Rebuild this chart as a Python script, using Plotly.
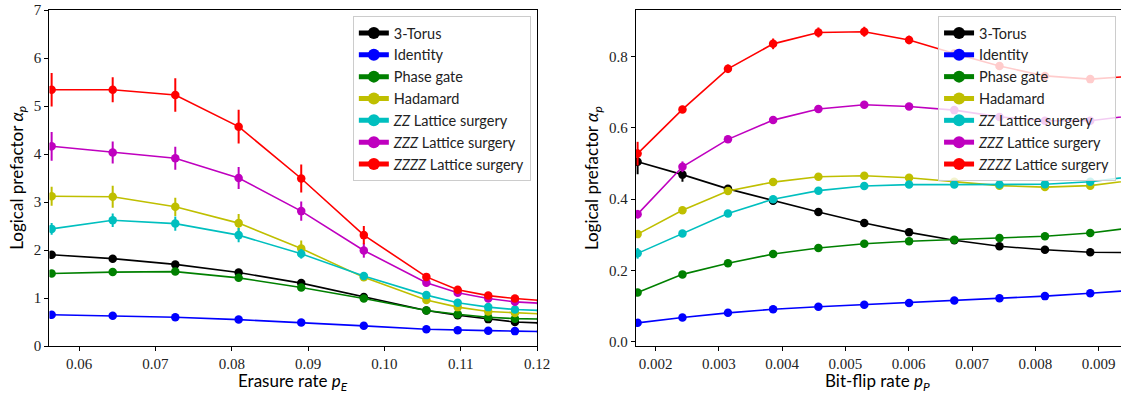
import plotly.graph_objects as go

W, H = 1134, 393

names = ["3-Torus", "Identity", "Phase gate", "Hadamard",
         "<i>ZZ</i> Lattice surgery", "<i>ZZZ</i> Lattice surgery", "<i>ZZZZ</i> Lattice surgery"]
colors = ["#000000", "#0000ff", "#008000", "#bfbf00", "#00bfbf", "#bf00bf", "#ff0000"]

# ---- Left panel: erasure rate ----
pE = [0.0564, 0.0644, 0.0726, 0.0809, 0.0891, 0.0973, 0.1055, 0.1096, 0.1136, 0.1171, 0.1205]
left_torus = [1.90, 1.82, 1.70, 1.53, 1.31, 1.02, 0.74, 0.64, 0.56, 0.50, 0.48]
left_identity = [0.65, 0.63, 0.60, 0.55, 0.49, 0.42, 0.35, 0.33, 0.32, 0.31, 0.30]
left_phase = [1.51, 1.54, 1.55, 1.42, 1.22, 0.99, 0.74, 0.66, 0.60, 0.57, 0.56]
left_hadamard = [3.12, 3.11, 2.90, 2.56, 2.03, 1.43, 0.96, 0.81, 0.72, 0.69, 0.67]
left_zz = [2.44, 2.62, 2.55, 2.31, 1.92, 1.46, 1.06, 0.90, 0.81, 0.76, 0.74]
left_zzz = [4.16, 4.03, 3.91, 3.50, 2.81, 1.99, 1.32, 1.11, 0.99, 0.92, 0.89]
left_zzzz = [5.34, 5.34, 5.23, 4.57, 3.49, 2.31, 1.44, 1.17, 1.05, 0.99, 0.95]
left_err_torus = [0.05, 0.04, 0.04, 0.03, 0.03, 0.02, 0.02, 0.02, 0.01, 0.01, 0.01]
left_err_identity = [0.03, 0.03, 0.02, 0.02, 0.02, 0.02, 0.01, 0.01, 0.01, 0.01, 0.01]
left_err_phase = [0.06, 0.07, 0.07, 0.06, 0.05, 0.03, 0.02, 0.02, 0.01, 0.01, 0.01]
left_err_hadamard = [0.20, 0.23, 0.19, 0.19, 0.17, 0.05, 0.04, 0.03, 0.02, 0.02, 0.02]
left_err_zz = [0.12, 0.14, 0.15, 0.15, 0.10, 0.05, 0.03, 0.02, 0.02, 0.02, 0.02]
left_err_zzz = [0.30, 0.23, 0.24, 0.23, 0.20, 0.15, 0.05, 0.04, 0.03, 0.03, 0.03]
left_err_zzzz = [0.35, 0.26, 0.35, 0.35, 0.29, 0.19, 0.06, 0.04, 0.03, 0.03, 0.03]
left_xticks = [0.06, 0.07, 0.08, 0.09, 0.10, 0.11, 0.12]
left_xticklabels = ["0.06", "0.07", "0.08", "0.09", "0.10", "0.11", "0.12"]
left_yticks = [0, 1, 2, 3, 4, 5, 6, 7]

# ---- Right panel: bit-flip rate ----
pP = [0.001714, 0.002423, 0.003142, 0.003856, 0.004572, 0.005297, 0.006005,
      0.006720, 0.007434, 0.008153, 0.008869, 0.009584]
right_torus = [0.505, 0.469, 0.429, 0.396, 0.364, 0.333, 0.307, 0.285, 0.268, 0.258, 0.251, 0.250]
right_identity = [0.053, 0.068, 0.081, 0.091, 0.098, 0.104, 0.109, 0.116, 0.122, 0.128, 0.136, 0.145]
right_phase = [0.138, 0.189, 0.220, 0.246, 0.263, 0.275, 0.282, 0.286, 0.291, 0.296, 0.305, 0.321]
right_hadamard = [0.302, 0.369, 0.423, 0.448, 0.463, 0.466, 0.460, 0.449, 0.438, 0.434, 0.438, 0.454]
right_zz = [0.248, 0.304, 0.360, 0.400, 0.424, 0.437, 0.441, 0.441, 0.441, 0.442, 0.449, 0.465]
right_zzz = [0.358, 0.491, 0.568, 0.622, 0.653, 0.665, 0.660, 0.650, 0.631, 0.620, 0.620, 0.636]
right_zzzz = [0.528, 0.652, 0.766, 0.836, 0.868, 0.870, 0.847, 0.809, 0.774, 0.746, 0.737, 0.746]
right_err_torus = [0.035, 0.02, 0.01, 0.006, 0.005, 0.005, 0.005, 0.004, 0.004, 0.004, 0.004, 0.004]
right_err_identity = [0.004, 0.003, 0.003, 0.003, 0.003, 0.003, 0.003, 0.003, 0.003, 0.003, 0.003, 0.003]
right_err_phase = [0.006, 0.005, 0.005, 0.004, 0.004, 0.004, 0.004, 0.004, 0.004, 0.004, 0.004, 0.004]
right_err_hadamard = [0.008, 0.006, 0.006, 0.005, 0.005, 0.005, 0.005, 0.005, 0.005, 0.005, 0.005, 0.005]
right_err_zz = [0.015, 0.006, 0.006, 0.005, 0.005, 0.005, 0.005, 0.005, 0.005, 0.005, 0.005, 0.005]
right_err_zzz = [0.012, 0.015, 0.008, 0.007, 0.007, 0.007, 0.007, 0.006, 0.006, 0.006, 0.006, 0.006]
right_err_zzzz = [0.033, 0.010, 0.012, 0.015, 0.014, 0.014, 0.012, 0.010, 0.010, 0.010, 0.010, 0.010]
right_xticks = [0.002, 0.003, 0.004, 0.005, 0.006, 0.007, 0.008, 0.009]
right_xticklabels = ["0.002", "0.003", "0.004", "0.005", "0.006", "0.007", "0.008", "0.009"]
right_yticks = [0.0, 0.2, 0.4, 0.6, 0.8]
right_yticklabels = ["0.0", "0.2", "0.4", "0.6", "0.8"]

left_vals = [left_torus, left_identity, left_phase, left_hadamard, left_zz, left_zzz, left_zzzz]
left_errs = [left_err_torus, left_err_identity, left_err_phase, left_err_hadamard,
             left_err_zz, left_err_zzz, left_err_zzzz]
right_vals = [right_torus, right_identity, right_phase, right_hadamard, right_zz, right_zzz, right_zzzz]
right_errs = [right_err_torus, right_err_identity, right_err_phase, right_err_hadamard,
              right_err_zz, right_err_zzz, right_err_zzzz]

fig = go.Figure()

for i in range(7):
    fig.add_trace(go.Scatter(
        x=pE, y=left_vals[i], mode="lines+markers", name=names[i],
        line=dict(color=colors[i], width=1.6),
        marker=dict(color=colors[i], size=8.5),
        error_y=dict(type="data", array=left_errs[i], color=colors[i], thickness=2, width=0),
        xaxis="x", yaxis="y", legend="legend"))
for i in range(7):
    fig.add_trace(go.Scatter(
        x=pP, y=right_vals[i], mode="lines+markers", name=names[i],
        line=dict(color=colors[i], width=1.6),
        marker=dict(color=colors[i], size=8.5),
        error_y=dict(type="data", array=right_errs[i], color=colors[i], thickness=2, width=0),
        xaxis="x2", yaxis="y2", legend="legend2"))

T, B = 10, 47
plot_h = H - T - B

def px(x):
    return x / W

tickfont = dict(family="Liberation Serif, DejaVu Serif, serif", size=15, color="#222")
axis_common = dict(showgrid=False, zeroline=False, showline=True, linecolor="black",
                   linewidth=1.3, ticks="outside", ticklen=4, tickwidth=1.2,
                   tickcolor="black", tickfont=tickfont)

legend_common = dict(bgcolor="rgba(255,255,255,0.8)", bordercolor="#cccccc", borderwidth=1,
                     font=dict(family="Lato, DejaVu Sans, sans-serif", size=14.5, color="#222"),
                     xanchor="right", yanchor="top", itemsizing="constant",
                     tracegroupgap=0)

fig.update_layout(
    width=W, height=H,
    margin=dict(l=0, r=0, t=T, b=B),
    paper_bgcolor="white", plot_bgcolor="white",
    xaxis=dict(domain=[px(50), px(543.3)], range=[0.05611, 0.12],
               tickmode="array", tickvals=left_xticks, ticktext=left_xticklabels,
               mirror=True, anchor="y", **axis_common),
    yaxis=dict(domain=[0, 1], range=[0, 7], tickmode="array", tickvals=left_yticks,
               ticktext=[str(v) for v in left_yticks],
               mirror=True, anchor="x", **axis_common),
    xaxis2=dict(domain=[px(643.3), 1.0], range=[0.0016875, 0.009355],
                tickmode="array", tickvals=right_xticks, ticktext=right_xticklabels,
                mirror=True, anchor="y2", **axis_common),
    yaxis2=dict(domain=[0, 1], range=[-0.012, 0.931], tickmode="array",
                tickvals=right_yticks, ticktext=right_yticklabels,
                mirror=False, anchor="x2", **axis_common),
    legend=dict(x=px(537), y=(346 - 16) / plot_h, **legend_common),
    legend2=dict(x=px(1129), y=(346 - 16) / plot_h, **legend_common),
    showlegend=True,
)

labfont = dict(family="Lato, DejaVu Sans, sans-serif", size=17, color="black")
ann = [
    dict(text="Erasure rate <i>p</i><sub><i>E</i></sub>", x=px(296), y=(346 - 382) / plot_h),
    dict(text="Bit-flip rate <i>p</i><sub><i>P</i></sub>", x=px(888), y=(346 - 382) / plot_h),
    dict(text="Logical prefactor <i>α</i><sub><i>p</i></sub>", x=px(18), y=0.5, textangle=-90),
    dict(text="Logical prefactor <i>α</i><sub><i>p</i></sub>", x=px(600), y=0.5, textangle=-90),
]
for a in ann:
    fig.add_annotation(xref="paper", yref="paper", showarrow=False, font=labfont,
                       xanchor="center", yanchor="middle", **a)

fig.write_html("out.html")
